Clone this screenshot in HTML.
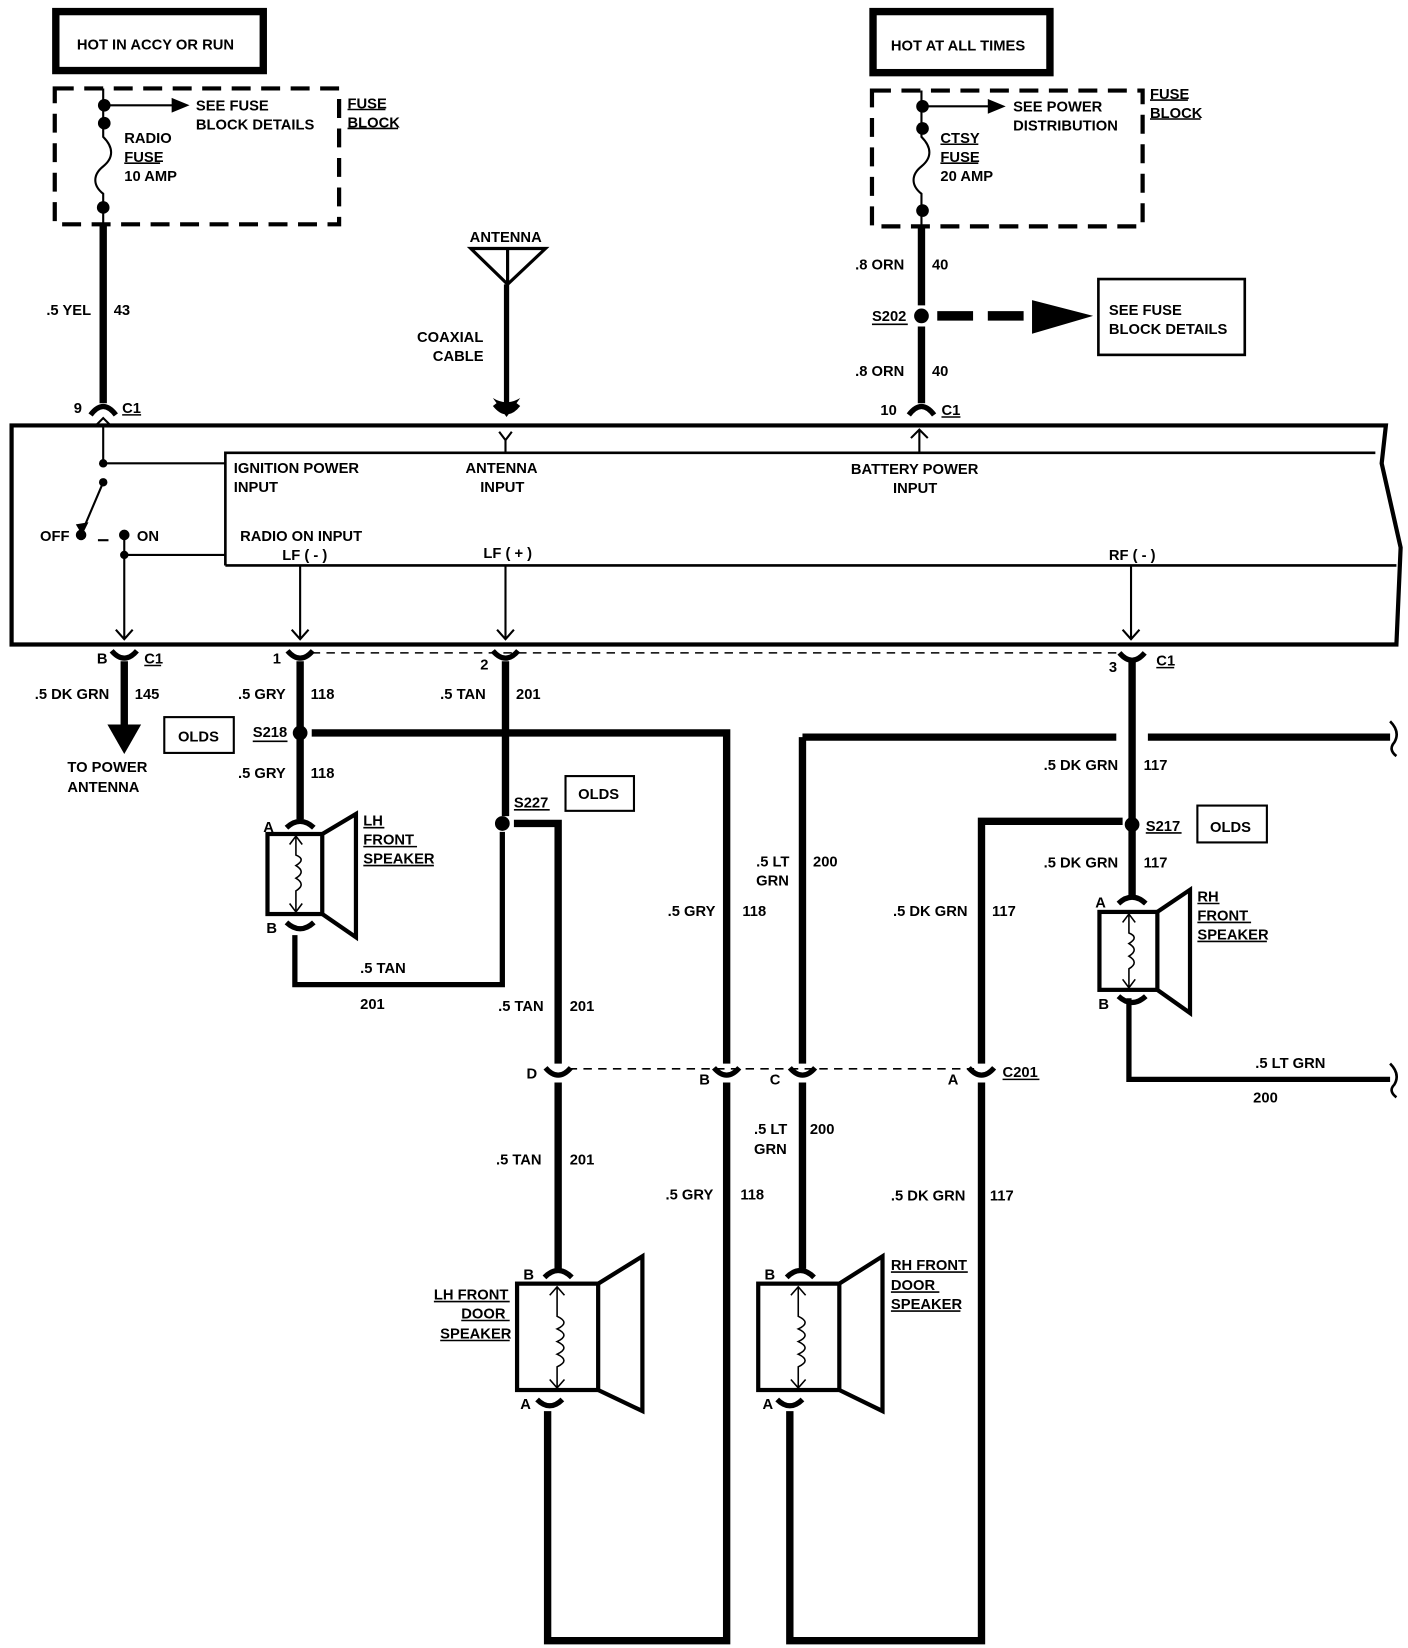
<!DOCTYPE html>
<html><head><meta charset="utf-8"><style>
html,body{margin:0;padding:0;background:#fff;}
svg{display:block}
text{font-family:"Liberation Sans",sans-serif;font-weight:bold;font-size:14px;fill:#000}
</style></head><body>
<svg width="1408" height="1648" viewBox="0 0 1337 1565" preserveAspectRatio="none" xmlns="http://www.w3.org/2000/svg">
<g fill="none" stroke="#000">
<!-- top boxes -->
<rect x="53" y="11" width="197" height="56" stroke-width="7"/>
<rect x="829" y="11" width="168" height="58" stroke-width="7"/>
<rect x="52" y="84" width="270" height="129" stroke-width="4" stroke-dasharray="18,10"/>
<rect x="828" y="86" width="257" height="129" stroke-width="4" stroke-dasharray="18,10"/>
<!-- left fuse -->
<path d="M98 84 V130 C108 140 108 150 98 158 C88 166 88 176 98 184 V213" stroke-width="2"/>
<path d="M99 100 H168" stroke-width="2"/>
<path d="M875 86 V130 C885 140 885 150 875 158 C865 166 865 176 875 184 V215" stroke-width="2"/>
<path d="M876 101 H940" stroke-width="2"/>
<!-- thick wires top -->
<path d="M98 213 V383" stroke-width="7"/>
<path d="M875 215 V290 M875 310 V383" stroke-width="7"/>
<path d="M481 270 V385" stroke-width="5"/>
<path d="M890 300 H980" stroke-width="9" stroke-dasharray="34,14"/>
<rect x="1043" y="265" width="139" height="72" stroke-width="2.5"/>
<!-- antenna -->
<path d="M447 236 H518 L482 270 Z M482 236 V270" stroke-width="3"/>
<!-- top connectors -->
<path d="M86 394 Q98 378 110 394" stroke-width="5"/>
<path d="M863 394 Q875 378 887 394" stroke-width="5"/>
<path d="M470 384 Q481 398 492 384" stroke-width="5"/>
<!-- module -->
<path d="M11 404 H1316 L1312 440 L1330 520 L1326 612 H11 Z" stroke-width="4"/>
<path d="M214 537 V430 H1306 M214 537 H1326" stroke-width="2.5"/>
<path d="M98 405 V440 H214 M98 458 L78 505 M90 405 L98 397 L106 405" stroke-width="2"/>
<path d="M93 513 H103" stroke-width="2"/>
<path d="M118 508 V607 M118 527 H214 M110 598 L118 607 L126 598" stroke-width="2"/>
<path d="M474 410 L480 418 L486 410 M480 418 V430" stroke-width="2"/>
<path d="M865 416 L873 408 L881 416 M873 408 V430" stroke-width="2"/>
<path d="M285 537 V607 M277 598 L285 607 L293 598" stroke-width="2"/>
<path d="M480 537 V607 M472 598 L480 607 L488 598" stroke-width="2"/>
<path d="M1074 537 V607 M1066 598 L1074 607 L1082 598" stroke-width="2"/>
<!-- bottom connector row -->
<path d="M296 620 H1066" stroke-width="1.5" stroke-dasharray="8,6"/>
<path d="M106 618 Q118 632 130 618 M273 618 Q285 632 297 618 M468 618 Q480 632 492 618 M1063 620 Q1075 634 1087 620" stroke-width="5"/>
<!-- wires below -->
<path d="M118 628 V690" stroke-width="7"/>
<path d="M285 628 V778" stroke-width="7"/>
<path d="M296 696 H690 V1010 M690 1028 V1558 H520 V1340" stroke-width="7"/>
<path d="M480 628 V775" stroke-width="7"/>
<path d="M477 790 V935 H280 V888" stroke-width="5"/>
<path d="M488 782 H530 V1010 M530 1028 V1205" stroke-width="7"/>
<path d="M762 700 H1060 M1090 700 H1320 M762 700 V1010 M762 1028 V1205" stroke-width="7"/>
<path d="M750 1340 V1558 H932 V1028 M932 1010 V780 H1066" stroke-width="7"/>
<path d="M1075 628 V850" stroke-width="7"/>
<path d="M1072 948 V1025 H1320" stroke-width="5"/>
<path d="M1320 685 Q1330 695 1324 705 Q1318 712 1326 718 M1320 1010 Q1330 1020 1324 1030 Q1318 1036 1326 1042" stroke-width="2.5"/>
<!-- C201 row -->
<path d="M540 1015 H925" stroke-width="1.5" stroke-dasharray="8,6"/>
<path d="M518 1014 Q530 1028 542 1014 M678 1014 Q690 1028 702 1014 M750 1014 Q762 1028 774 1014 M920 1014 Q932 1028 944 1014" stroke-width="5"/>
<!-- OLDS boxes -->
<rect x="156" y="681" width="66" height="34" stroke-width="2"/>
<rect x="537" y="737" width="65" height="33" stroke-width="2"/>
<rect x="1137" y="765" width="66" height="35" stroke-width="2"/>
<!-- LH front speaker -->
<path d="M272 786 Q285 774 298 786 M272 876 Q285 888 298 876" stroke-width="5"/>
<rect x="254" y="792" width="52" height="76" stroke-width="4"/>
<path d="M306 792 L338 773 V890 L306 868" stroke-width="4"/>
<path d="M281 794 V812 Q291 816 281 822 Q291 828 281 834 Q291 840 281 846 V866 M275 802 L281 794 L287 802 M275 858 L281 866 L287 858" stroke-width="1.5"/>
<!-- RH front speaker -->
<path d="M1062 858 Q1075 846 1088 858 M1062 946 Q1075 958 1088 946" stroke-width="5"/>
<rect x="1044" y="866" width="55" height="74" stroke-width="4"/>
<path d="M1099 866 L1130 845 V962 L1099 940" stroke-width="4"/>
<path d="M1072 868 V886 Q1082 890 1072 896 Q1082 902 1072 908 Q1082 914 1072 920 V938 M1066 876 L1072 868 L1078 876 M1066 930 L1072 938 L1078 930" stroke-width="1.5"/>
<!-- LH door speaker -->
<path d="M517 1213 Q530 1200 543 1213 M510 1329 Q522 1341 534 1329" stroke-width="5"/>
<rect x="491" y="1219" width="77" height="101" stroke-width="4"/>
<path d="M568 1219 L610 1193 V1340 L568 1320" stroke-width="4"/>
<path d="M529 1222 V1250 Q542 1256 529 1262 Q542 1268 529 1274 Q542 1280 529 1286 Q542 1292 529 1298 V1318 M522 1230 L529 1222 L536 1230 M522 1310 L529 1318 L536 1310" stroke-width="1.5"/>
<!-- RH door speaker -->
<path d="M747 1213 Q760 1200 773 1213 M738 1329 Q750 1341 762 1329" stroke-width="5"/>
<rect x="720" y="1219" width="77" height="101" stroke-width="4"/>
<path d="M797 1219 L838 1193 V1340 L797 1320" stroke-width="4"/>
<path d="M758 1222 V1250 Q771 1256 758 1262 Q771 1268 758 1274 Q771 1280 758 1286 Q771 1292 758 1298 V1318 M751 1230 L758 1222 L765 1230 M751 1310 L758 1318 L765 1310" stroke-width="1.5"/>
<!-- underlines -->
<path d="M330 104 H366 M330 122 H378 M118 155 H152 M893 137 H929 M893 155 H929 M1092 95 H1128 M1092 113 H1140 M828 308 H862 M116 394 H134 M894 396 H912 M137 632 H153 M240 704 H273 M488 769 H522 M1088 791 H1122 M1098 634 H1115 M952 1025 H987 M345 786 H365 M345 804 H396 M345 822 H412 M412 1236 H484 M438 1254 H484 M418 1273 H484 M846 1208 H919 M846 1227 H892 M846 1245 H912 M1137 858 H1158 M1137 876 H1188 M1137 894 H1203" stroke-width="1.5"/>
</g>
<g fill="#000">
<circle cx="99" cy="100" r="6"/><circle cx="99" cy="117" r="6"/><circle cx="98" cy="197" r="6"/>
<circle cx="876" cy="101" r="6"/><circle cx="876" cy="122" r="6"/><circle cx="876" cy="200" r="6"/>
<path d="M163 93 L180 100 L163 107 Z M938 94 L955 101 L938 108 Z"/>
<circle cx="875" cy="300" r="7"/>
<path d="M980 285 L1038 300 L980 317 Z"/>
<path d="M468 378 L481 396 L494 378 Q481 386 468 378 Z"/>
<circle cx="98" cy="440" r="4"/><circle cx="98" cy="458" r="4"/><circle cx="77" cy="508" r="5"/><circle cx="118" cy="508" r="5"/><circle cx="118" cy="527" r="4"/>
<path d="M72 498 L78 508 L84 496 Z"/>
<path d="M102 688 L118 716 L134 688 Z"/>
<circle cx="285" cy="696" r="7"/><circle cx="477" cy="782" r="7"/><circle cx="1075" cy="783" r="7"/>
</g>
<text x="73" y="47">HOT IN ACCY OR RUN</text>
<text x="846" y="48">HOT AT ALL TIMES</text>
<text x="186" y="105">SEE FUSE</text><text x="186" y="123">BLOCK DETAILS</text>
<text x="118" y="136">RADIO</text><text x="118" y="154">FUSE</text><text x="118" y="172">10 AMP</text>
<text x="330" y="103">FUSE</text><text x="330" y="121">BLOCK</text>
<text x="962" y="106">SEE POWER</text><text x="962" y="124">DISTRIBUTION</text>
<text x="893" y="136">CTSY</text><text x="893" y="154">FUSE</text><text x="893" y="172">20 AMP</text>
<text x="1092" y="94">FUSE</text><text x="1092" y="112">BLOCK</text>
<text x="446" y="230">ANTENNA</text>
<text x="396" y="325">COAXIAL</text><text x="411" y="343">CABLE</text>
<text x="44" y="299">.5 YEL</text><text x="108" y="299">43</text>
<text x="812" y="256">.8 ORN</text><text x="885" y="256">40</text>
<text x="812" y="357">.8 ORN</text><text x="885" y="357">40</text>
<text x="828" y="305">S202</text>
<text x="1053" y="299">SEE FUSE</text><text x="1053" y="317">BLOCK DETAILS</text>
<text x="70" y="392">9</text><text x="116" y="392">C1</text>
<text x="836" y="394">10</text><text x="894" y="394">C1</text>
<text x="222" y="449">IGNITION POWER</text><text x="222" y="467">INPUT</text>
<text x="442" y="449">ANTENNA</text><text x="456" y="467">INPUT</text>
<text x="808" y="450">BATTERY POWER</text><text x="848" y="468">INPUT</text>
<text x="38" y="514">OFF</text><text x="130" y="514">ON</text>
<text x="228" y="514">RADIO ON INPUT</text>
<text x="268" y="532">LF ( - )</text><text x="459" y="530">LF ( + )</text><text x="1053" y="532">RF ( - )</text>
<text x="92" y="630">B</text><text x="137" y="630">C1</text>
<text x="259" y="630">1</text><text x="456" y="636">2</text><text x="1053" y="638">3</text><text x="1098" y="632">C1</text>
<text x="33" y="664">.5 DK GRN</text><text x="128" y="664">145</text>
<text x="64" y="733">TO POWER</text><text x="64" y="752">ANTENNA</text>
<text x="226" y="664">.5 GRY</text><text x="295" y="664">118</text>
<text x="418" y="664">.5 TAN</text><text x="490" y="664">201</text>
<text x="169" y="704">OLDS</text><text x="240" y="700">S218</text>
<text x="226" y="739">.5 GRY</text><text x="295" y="739">118</text>
<text x="488" y="767">S227</text><text x="549" y="759">OLDS</text>
<text x="991" y="731">.5 DK GRN</text><text x="1086" y="731">117</text>
<text x="1088" y="789">S217</text><text x="1149" y="790">OLDS</text>
<text x="991" y="824">.5 DK GRN</text><text x="1086" y="824">117</text>
<text x="345" y="784">LH</text><text x="345" y="802">FRONT</text><text x="345" y="820">SPEAKER</text>
<text x="250" y="790">A</text><text x="253" y="886">B</text>
<text x="342" y="924">.5 TAN</text><text x="342" y="958">201</text>
<text x="718" y="823">.5 LT</text><text x="718" y="841">GRN</text><text x="772" y="823">200</text>
<text x="634" y="870">.5 GRY</text><text x="705" y="870">118</text>
<text x="848" y="870">.5 DK GRN</text><text x="942" y="870">117</text>
<text x="1137" y="856">RH</text><text x="1137" y="874">FRONT</text><text x="1137" y="892">SPEAKER</text>
<text x="1040" y="862">A</text><text x="1043" y="958">B</text>
<text x="473" y="960">.5 TAN</text><text x="541" y="960">201</text>
<text x="1192" y="1014">.5 LT GRN</text><text x="1190" y="1047">200</text>
<text x="500" y="1024">D</text><text x="664" y="1030">B</text><text x="731" y="1030">C</text><text x="900" y="1030">A</text>
<text x="952" y="1023">C201</text>
<text x="471" y="1106">.5 TAN</text><text x="541" y="1106">201</text>
<text x="716" y="1077">.5 LT</text><text x="716" y="1096">GRN</text><text x="769" y="1077">200</text>
<text x="632" y="1139">.5 GRY</text><text x="703" y="1139">118</text>
<text x="846" y="1140">.5 DK GRN</text><text x="940" y="1140">117</text>
<text x="412" y="1234">LH FRONT</text><text x="438" y="1252">DOOR</text><text x="418" y="1271">SPEAKER</text>
<text x="846" y="1206">RH FRONT</text><text x="846" y="1225">DOOR</text><text x="846" y="1243">SPEAKER</text>
<text x="497" y="1215">B</text><text x="494" y="1338">A</text>
<text x="726" y="1215">B</text><text x="724" y="1338">A</text>
</svg>
</body></html>
